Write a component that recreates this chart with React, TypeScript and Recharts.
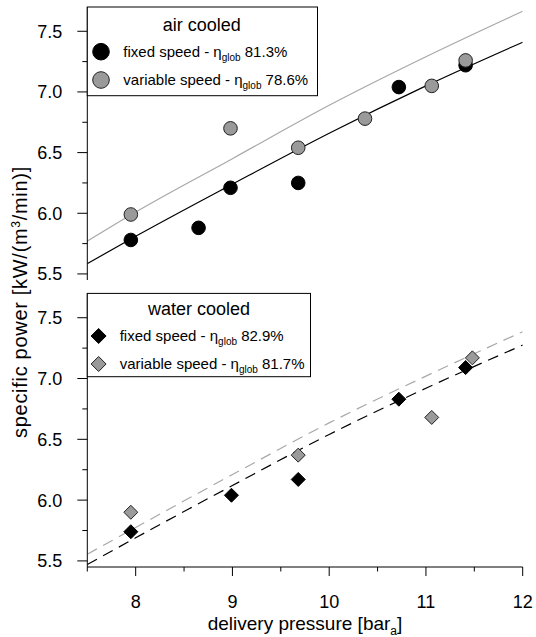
import React from 'react';
import { ComposedChart, Line, Scatter, XAxis, YAxis } from 'recharts';

// ---- data ----
const pressureAirFixed = [7.95, 8.65, 8.98, 9.68, 10.72, 11.41];
const powerAirFixed = [5.78, 5.88, 6.21, 6.25, 7.04, 7.22];
const pressureAirVar = [7.95, 8.98, 9.68, 10.37, 11.06, 11.41];
const powerAirVar = [5.99, 6.7, 6.54, 6.78, 7.05, 7.26];

const pressureWaterFixed = [7.95, 8.99, 9.68, 10.72, 11.41];
const powerWaterFixed = [5.74, 6.04, 6.17, 6.83, 7.09];
const pressureWaterVar = [7.95, 9.68, 11.06, 11.48];
const powerWaterVar = [5.9, 6.37, 6.68, 7.17];

const fitPressure = [7.5, 8, 9, 10, 11, 12];
const fitAirFixed = [5.585, 5.81, 6.24, 6.66, 7.05, 7.41];
const fitAirVar = [5.77, 6.01, 6.45, 6.89, 7.29, 7.665];
const fitWaterFixed = [5.47, 5.69, 6.12, 6.54, 6.92, 7.275];
const fitWaterVar = [5.555, 5.775, 6.21, 6.635, 7.02, 7.385];

const yTicks = [5.5, 5.75, 6, 6.25, 6.5, 6.75, 7, 7.25, 7.5];
const xTicks = [7.5, 8, 8.5, 9, 9.5, 10, 10.5, 11, 11.5, 12];

const airTitle = 'air cooled';
const waterTitle = 'water cooled';
const airFixedEff = '81.3%';
const airVarEff = '78.6%';
const waterFixedEff = '82.9%';
const waterVarEff = '81.7%';

const zip = (xs: number[], ys: number[]) => xs.map((x, i) => ({ x, y: ys[i] }));

const FONT = '"Liberation Sans", Arial, Helvetica, sans-serif';
const GRAY_FILL = '#9a9a9a';
const GRAY_LINE = '#a8a8a8';

const YTick = (props: any) => {
  const { x, y, payload } = props;
  const v = payload.value as number;
  const major = Math.abs(v * 2 - Math.round(v * 2)) < 1e-6;
  return (
    <g>
      <line x1={x - (major ? 10 : 5)} x2={x} y1={y} y2={y} stroke="#000" strokeWidth={1} />
      {major && (
        <text x={x - 25} y={y + 6.4} textAnchor="end" fontSize={18} fontFamily={FONT} fill="#000">
          {v.toFixed(1)}
        </text>
      )}
    </g>
  );
};

const XTick = (props: any) => {
  const { x, y, payload } = props;
  const v = payload.value as number;
  const major = Number.isInteger(v);
  return (
    <g>
      <line x1={x} x2={x} y1={y} y2={y + (major ? 9 : 4.5)} stroke="#000" strokeWidth={1} />
      {major && (
        <text x={x} y={y + 41} textAnchor="middle" fontSize={18} fontFamily={FONT} fill="#000">
          {String(v)}
        </text>
      )}
    </g>
  );
};

const circleShape = (fill: string, stroke: string) => (p: any) => (
  <circle cx={p.cx} cy={p.cy} r={6.8} fill={fill} stroke={stroke} strokeWidth={1} />
);
const diamondShape = (fill: string, stroke: string) => (p: any) => {
  const s = 7;
  return (
    <polygon
      points={`${p.cx},${p.cy - s} ${p.cx + s},${p.cy} ${p.cx},${p.cy + s} ${p.cx - s},${p.cy}`}
      fill={fill}
      stroke={stroke}
      strokeWidth={1}
    />
  );
};

const EffText = ({ x, y, label, eff }: { x: number; y: number; label: string; eff: string }) => (
  <text x={x} y={y} fontSize={15} fontFamily={FONT} fill="#000">
    {label}
    <tspan>{'\u03B7'}</tspan>
    <tspan fontSize={10} dy={4}>glob</tspan>
    <tspan dy={-4}>{' ' + eff}</tspan>
  </text>
);

const PLOT_LEFT = 87.3;
const PLOT_RIGHT_MARGIN = 536 - 522.7;
const Y_DOMAIN: [number, number] = [5.45, 7.7];

export default function App() {
  const airFixed = zip(pressureAirFixed, powerAirFixed);
  const airVar = zip(pressureAirVar, powerAirVar);
  const waterFixed = zip(pressureWaterFixed, powerWaterFixed);
  const waterVar = zip(pressureWaterVar, powerWaterVar);
  const airFixedFit = zip(fitPressure, fitAirFixed);
  const airVarFit = zip(fitPressure, fitAirVar);
  const waterFixedFit = zip(fitPressure, fitWaterFixed);
  const waterVarFit = zip(fitPressure, fitWaterVar);

  return (
    <div style={{ position: 'absolute', left: 0, top: 0, width: 536, height: 637, background: '#fff', fontFamily: FONT }}>
      {/* top panel: air cooled */}
      <div style={{ position: 'absolute', left: 0, top: 0 }}>
        <ComposedChart width={536} height={290} margin={{ top: 7, right: PLOT_RIGHT_MARGIN, bottom: 10, left: 0 }}>
          <XAxis type="number" dataKey="x" domain={[7.5, 12]} ticks={xTicks} allowDataOverflow hide />
          <YAxis
            type="number"
            dataKey="y"
            domain={Y_DOMAIN}
            ticks={yTicks}
            allowDataOverflow
            width={PLOT_LEFT}
            tickSize={0}
            tickMargin={0}
            tickLine={false}
            tick={<YTick />}
            axisLine={{ stroke: '#000', strokeWidth: 1 }}
            interval={0}
          />
          <Line data={airVarFit} dataKey="y" type="monotone" stroke={GRAY_LINE} strokeWidth={1.2} dot={false} isAnimationActive={false} />
          <Line data={airFixedFit} dataKey="y" type="monotone" stroke="#000" strokeWidth={1.2} dot={false} isAnimationActive={false} />
          <Scatter data={airFixed} dataKey="y" shape={circleShape('#000', '#000')} isAnimationActive={false} />
          <Scatter data={airVar} dataKey="y" shape={circleShape(GRAY_FILL, '#222')} isAnimationActive={false} />
        </ComposedChart>
      </div>

      {/* bottom panel: water cooled */}
      <div style={{ position: 'absolute', left: 0, top: 283 }}>
        <ComposedChart width={536} height={354} margin={{ top: 10.4, right: PLOT_RIGHT_MARGIN, bottom: 0, left: 0 }}>
          <XAxis
            type="number"
            dataKey="x"
            domain={[7.5, 12]}
            ticks={xTicks}
            allowDataOverflow
            height={70}
            tickSize={0}
            tickMargin={0}
            tickLine={false}
            tick={<XTick />}
            interval={0}
            axisLine={{ stroke: '#000', strokeWidth: 1 }}
          />
          <YAxis
            type="number"
            dataKey="y"
            domain={Y_DOMAIN}
            ticks={yTicks}
            allowDataOverflow
            width={PLOT_LEFT}
            tickSize={0}
            tickMargin={0}
            tickLine={false}
            tick={<YTick />}
            axisLine={{ stroke: '#000', strokeWidth: 1 }}
            interval={0}
          />
          <Line data={waterVarFit} dataKey="y" type="monotone" stroke={GRAY_LINE} strokeWidth={1.2} strokeDasharray="11 7" dot={false} isAnimationActive={false} />
          <Line data={waterFixedFit} dataKey="y" type="monotone" stroke="#000" strokeWidth={1.2} strokeDasharray="11 7" dot={false} isAnimationActive={false} />
          <Scatter data={waterFixed} dataKey="y" shape={diamondShape('#000', '#000')} isAnimationActive={false} />
          <Scatter data={waterVar} dataKey="y" shape={diamondShape(GRAY_FILL, '#222')} isAnimationActive={false} />
        </ComposedChart>
      </div>

      {/* legends and axis titles */}
      <svg width={536} height={637} style={{ position: 'absolute', left: 0, top: 0, pointerEvents: 'none' }}>
        {/* air cooled legend */}
        <rect x={87.3} y={7} width={317.5 - 87.3} height={95.7 - 7} fill="#fff" stroke="#000" strokeWidth={1} />
        <text x={201.7} y={30.5} textAnchor="middle" fontSize={18} fontFamily={FONT} fill="#000">{airTitle}</text>
        <circle cx={101} cy={51.7} r={8.3} fill="#000" stroke="#000" />
        <EffText x={123.3} y={57} label="fixed speed - " eff={airFixedEff} />
        <circle cx={101} cy={80} r={8.3} fill={GRAY_FILL} stroke="#222" />
        <EffText x={123.3} y={85.3} label="variable speed - " eff={airVarEff} />

        {/* water cooled legend */}
        <rect x={87.3} y={293.4} width={310.5 - 87.3} height={376.7 - 293.4} fill="#fff" stroke="#000" strokeWidth={1} />
        <text x={199} y={314.5} textAnchor="middle" fontSize={18} fontFamily={FONT} fill="#000">{waterTitle}</text>
        <polygon points="98.6,328.5 106.1,336 98.6,343.5 91.1,336" fill="#000" stroke="#000" />
        <EffText x={119.7} y={341.3} label="fixed speed - " eff={waterFixedEff} />
        <polygon points="98.6,356.5 106.1,364 98.6,371.5 91.1,364" fill={GRAY_FILL} stroke="#222" />
        <EffText x={119.7} y={369.3} label="variable speed - " eff={waterVarEff} />

        {/* y axis title */}
        <text
          transform="translate(27,302) rotate(-90)"
          x={0}
          y={0}
          textAnchor="middle"
          fontSize={20}
          letterSpacing={0.7}
          fontFamily={FONT}
          fill="#000"
        >
          specific power [kW/(m<tspan fontSize={12} dy={-7}>3</tspan>
          <tspan dy={7}>/min)]</tspan>
        </text>

        {/* x axis title */}
        <text x={305} y={629.5} textAnchor="middle" fontSize={19} fontFamily={FONT} fill="#000">
          delivery pressure [bar<tspan fontSize={12} dy={5}>a</tspan>
          <tspan dy={-5}>]</tspan>
        </text>
      </svg>
    </div>
  );
}
